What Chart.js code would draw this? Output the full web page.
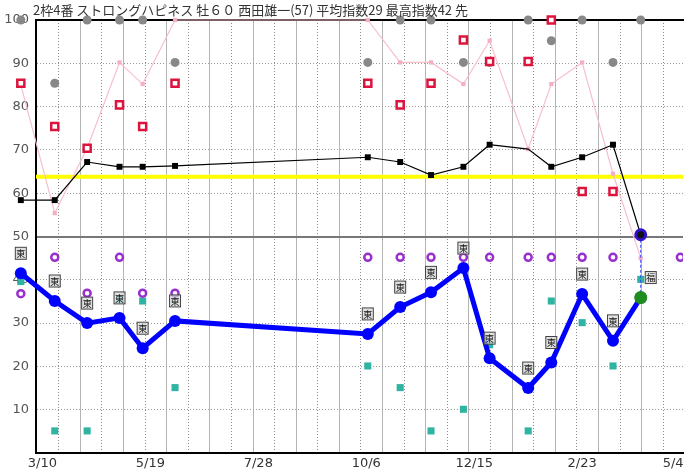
<!DOCTYPE html>
<html><head><meta charset="utf-8">
<script src="https://cdn.jsdelivr.net/npm/chart.js@4.4.0/dist/chart.umd.min.js"></script>
<style>html,body{margin:0;padding:0;background:#fff;overflow:hidden}canvas{display:block}</style>
</head><body>
<canvas id="c" width="691" height="476"></canvas>
<script>
// ---- data (days counted from 3/10) ----
const titleText = "2枠4番 ストロングハピネス 牡６０ 西田雄一(57) 平均指数29 最高指数42 先";
const raceDays     = [-26, -14, 8, 29, 50, 65, 86, 211, 232, 252, 273, 290, 315, 330, 350, 370, 388];
const indexValues  = [28.5, 41.5, 35.1, 30.0, 31.2, 24.2, 30.5, 27.5, 33.7, 37.1, 42.7, 21.9, 15.0, 20.9, 36.7, 25.9, 35.9];
const blackValues  = [58.4, 58.4, 58.4, 67.2, 66.1, 66.1, 66.3, 68.3, 67.2, 64.2, 66.1, 71.2, 70.2, 66.1, 68.3, 71.2, 50.4];
const pinkValues   = [100, 85, 55.4, 70.4, 90.2, 85.2, 100, 100, 90.2, 90.2, 85.2, 95.2, 70.2, 85.2, 90.2, 64.5, 45];
const grayValues   = [null, 100, 85.4, 100, 100, 100, 90.2, 90.2, 100, 100, 90.2, 90.2, 100, 95.2, 100, 90.2, 100];
const redValues    = [null, 85.4, 75.4, 70.4, 80.4, 75.4, 85.4, 85.4, 80.4, 85.4, 95.4, 90.4, 90.4, 100, 60.4, 60.4, null];
const purpleValues = [null, 36.8, 45.2, 36.9, 45.2, 36.9, 36.9, 45.2, 45.2, 45.2, 45.2, 45.2, 45.2, 45.2, 45.2, 45.2, null];
const tealValues   = [null, 39.6, 5.1, 5.1, 35.5, 35.1, 15.1, 20.1, 15.1, 5.1, 10.1, 25.0, 5.1, 35.1, 30.1, 20.1, 40.1];
const trackMarks   = ['', '東', '東', '東', '東', '東', '東', '東', '東', '東', '東', '東', '東', '東', '東', '東', '福'];
const nextRaceDay = 413.7, nextRacePurple = 45.2;
const lastRaceDay = 388, lastBlackValue = 50.4, lastIndexValue = 35.9;
const averageLine = 63.8;
const xMinDay = -4.16, xMaxDay = 415.4;
const gridStartDay = 10.57, gridStepDays = 14.0;
const xTickDays   = [0, 70, 140, 210, 280, 350, 409];
const xTickLabels = ['3/10', '5/19', '7/28', '10/6', '12/15', '2/23', '5/4'];

// ---- helpers ----
const pts = vals => raceDays.map((d, i) => ({x: d, y: vals[i]}));
const clipBox = {left: 28, top: 20, right: 0, bottom: 0};
const gridDays = [];
for (let d = gridStartDay; d <= xMaxDay; d += gridStepDays) gridDays.push(d);

// marks left of the y axis are part of the original picture: widen the drawing area for datasets
const widenPlugin = {
  id: 'widen',
  beforeDatasetsDraw(chart) { chart.$savedLeft = chart.chartArea.left; chart.chartArea.left = 8; },
  afterDatasetsDraw(chart) { chart.chartArea.left = chart.$savedLeft; }
};
const titlePlugin = {
  id: 'titleText',
  afterDraw(chart) {
    const ctx = chart.ctx;
    ctx.save();
    ctx.font = '13px "Noto Sans CJK JP"';
    ctx.fillStyle = '#333';
    ctx.textBaseline = 'middle';
    ctx.textAlign = 'left';
    ctx.fillText(titleText, 33, 10);
    ctx.restore();
  }
};
const markPlugin = {
  id: 'trackMarks',
  afterDatasetsDraw(chart) {
    const ctx = chart.ctx;
    const meta = chart.getDatasetMeta(1);
    ctx.save();
    meta.data.forEach((p, i) => {
      const m = trackMarks[i];
      if (!m) return;
      const last = i === trackMarks.length - 1;
      const cx = p.x + (last ? 10 : 0), cy = p.y - 20;
      ctx.fillStyle = 'rgba(215,215,215,0.75)';
      ctx.fillRect(cx - 5.5, cy - 6, 11, 12);
      ctx.strokeStyle = '#444';
      ctx.lineWidth = 1;
      ctx.strokeRect(cx - 5.5, cy - 6, 11, 12);
      ctx.fillStyle = '#111';
      ctx.font = '9px "Noto Sans CJK JP"';
      ctx.textAlign = 'center';
      ctx.textBaseline = 'middle';
      ctx.fillText(m, cx, cy + 0.5);
    });
    ctx.restore();
  }
};

new Chart(document.getElementById('c'), {
  type: 'line',
  data: {
    datasets: [
      { label: 'last', data: [{x: lastRaceDay, y: lastIndexValue}], showLine: false,
        pointRadius: 6.5, pointBackgroundColor: '#1e8c1e', pointBorderWidth: 0, order: 0, clip: clipBox },
      { label: 'index', data: pts(indexValues), borderColor: '#0000ff', borderWidth: 5,
        pointRadius: 6, pointBackgroundColor: '#0000ff', pointBorderWidth: 0, order: 1, clip: clipBox },
      { label: 'flower', data: [{x: lastRaceDay, y: lastBlackValue}], showLine: false,
        pointRadius: 5, pointBackgroundColor: '#111', pointBorderColor: '#3311cc', pointBorderWidth: 3, order: 2, clip: clipBox },
      { label: 'drop', data: [{x: lastRaceDay, y: lastBlackValue}, {x: lastRaceDay, y: lastIndexValue}],
        borderColor: '#3344ff', borderWidth: 1, borderDash: [3, 2], pointRadius: 0, order: 3, clip: clipBox },
      { label: 'purple', data: pts(purpleValues).concat([{x: nextRaceDay, y: nextRacePurple}]), showLine: false,
        pointRadius: 3.5, pointBackgroundColor: 'rgba(255,255,255,0)', pointBorderColor: '#9a2fd0', pointBorderWidth: 2.5, order: 4, clip: clipBox },
      { label: 'teal', data: pts(tealValues), showLine: false, pointStyle: 'rect',
        pointRadius: 5, pointBackgroundColor: '#2fb3a3', pointBorderWidth: 0, order: 5, clip: clipBox },
      { label: 'red', data: pts(redValues), showLine: false, pointStyle: 'rect',
        pointRadius: 5, pointBackgroundColor: '#fff', pointBorderColor: '#dc143c', pointBorderWidth: 2.5, order: 6, clip: clipBox },
      { label: 'gray', data: pts(grayValues), showLine: false,
        pointRadius: 4.5, pointBackgroundColor: '#888', pointBorderWidth: 0, order: 7, clip: clipBox },
      { label: 'black', data: pts(blackValues), borderColor: '#000', borderWidth: 1.2, pointStyle: 'rect',
        pointRadius: ctx => (ctx.dataIndex === 12 ? 0 : 4.2), pointBackgroundColor: '#000', pointBorderWidth: 0, order: 8, clip: clipBox },
      { label: 'pink', data: pts(pinkValues), borderColor: '#f7bfcc', borderWidth: 1.2, pointStyle: 'rect',
        pointRadius: 3, pointBackgroundColor: '#f4b0c2', pointBorderWidth: 0, order: 9, clip: clipBox },
      { label: 'avg', data: [{x: xMinDay, y: averageLine}, {x: xMaxDay, y: averageLine}],
        borderColor: '#ffff00', borderWidth: 4, pointRadius: 0, order: 10 }
    ]
  },
  options: {
    responsive: false,
    animation: false,
    devicePixelRatio: 1,
    layout: {padding: {top: 20, left: 0, right: 0, bottom: 0}},
    plugins: {legend: {display: false}, tooltip: {enabled: false}},
    elements: {line: {tension: 0}},
    scales: {
      x: {
        type: 'linear', position: 'bottom', min: xMinDay, max: xMaxDay,
        afterBuildTicks: s => { s.ticks = xTickDays.map(v => ({value: v})); },
        afterFit: s => { s.height = 23; s.paddingLeft = 0; s.paddingRight = 0; },
        ticks: {autoSkip: false, maxRotation: 0, padding: 3, color: '#333',
          font: {family: 'DejaVu Sans', size: 13},
          callback: (v, i) => xTickLabels[i]},
        grid: {display: false, drawTicks: false},
        border: {display: true, color: '#000', width: 2}
      },
      xg: {
        type: 'linear', position: 'bottom', min: xMinDay, max: xMaxDay,
        afterBuildTicks: s => { s.ticks = gridDays.map(v => ({value: v})); },
        afterFit: s => { s.height = 0; s.paddingLeft = 0; s.paddingRight = 0; },
        ticks: {display: false},
        grid: {display: true, drawTicks: false, drawOnChartArea: true,
          color: c => (c.index % 2 === 0 ? '#8a8a8a' : '#b4b4b4'), lineWidth: 1},
        border: {display: false, dash: c => (c.index % 2 === 0 ? [1, 2] : [])}
      },
      xt: {
        type: 'linear', position: 'top', min: xMinDay, max: xMaxDay,
        afterFit: s => { s.height = 0; s.paddingLeft = 0; s.paddingRight = 0; },
        ticks: {display: false},
        grid: {display: false, drawTicks: false},
        border: {display: true, color: '#000', width: 2}
      },
      y: {
        min: 0, max: 100,
        afterFit: s => { s.width = 36; s.paddingTop = 0; s.paddingBottom = 0; },
        ticks: {stepSize: 10, padding: 7, color: '#555', font: {family: 'DejaVu Sans', size: 13},
          callback: v => (v === 0 ? '' : v)},
        grid: {drawTicks: false,
          color: c => (c.tick && c.tick.value === 50 ? '#777' : '#999'),
          lineWidth: c => (c.tick && c.tick.value === 50 ? 2 : 1)},
        border: {display: true, color: '#000', width: 2,
          dash: c => (c.tick && c.tick.value !== 50 ? [1, 2] : [])}
      }
    }
  },
  plugins: [widenPlugin, titlePlugin, markPlugin]
});
</script>
</body></html>
